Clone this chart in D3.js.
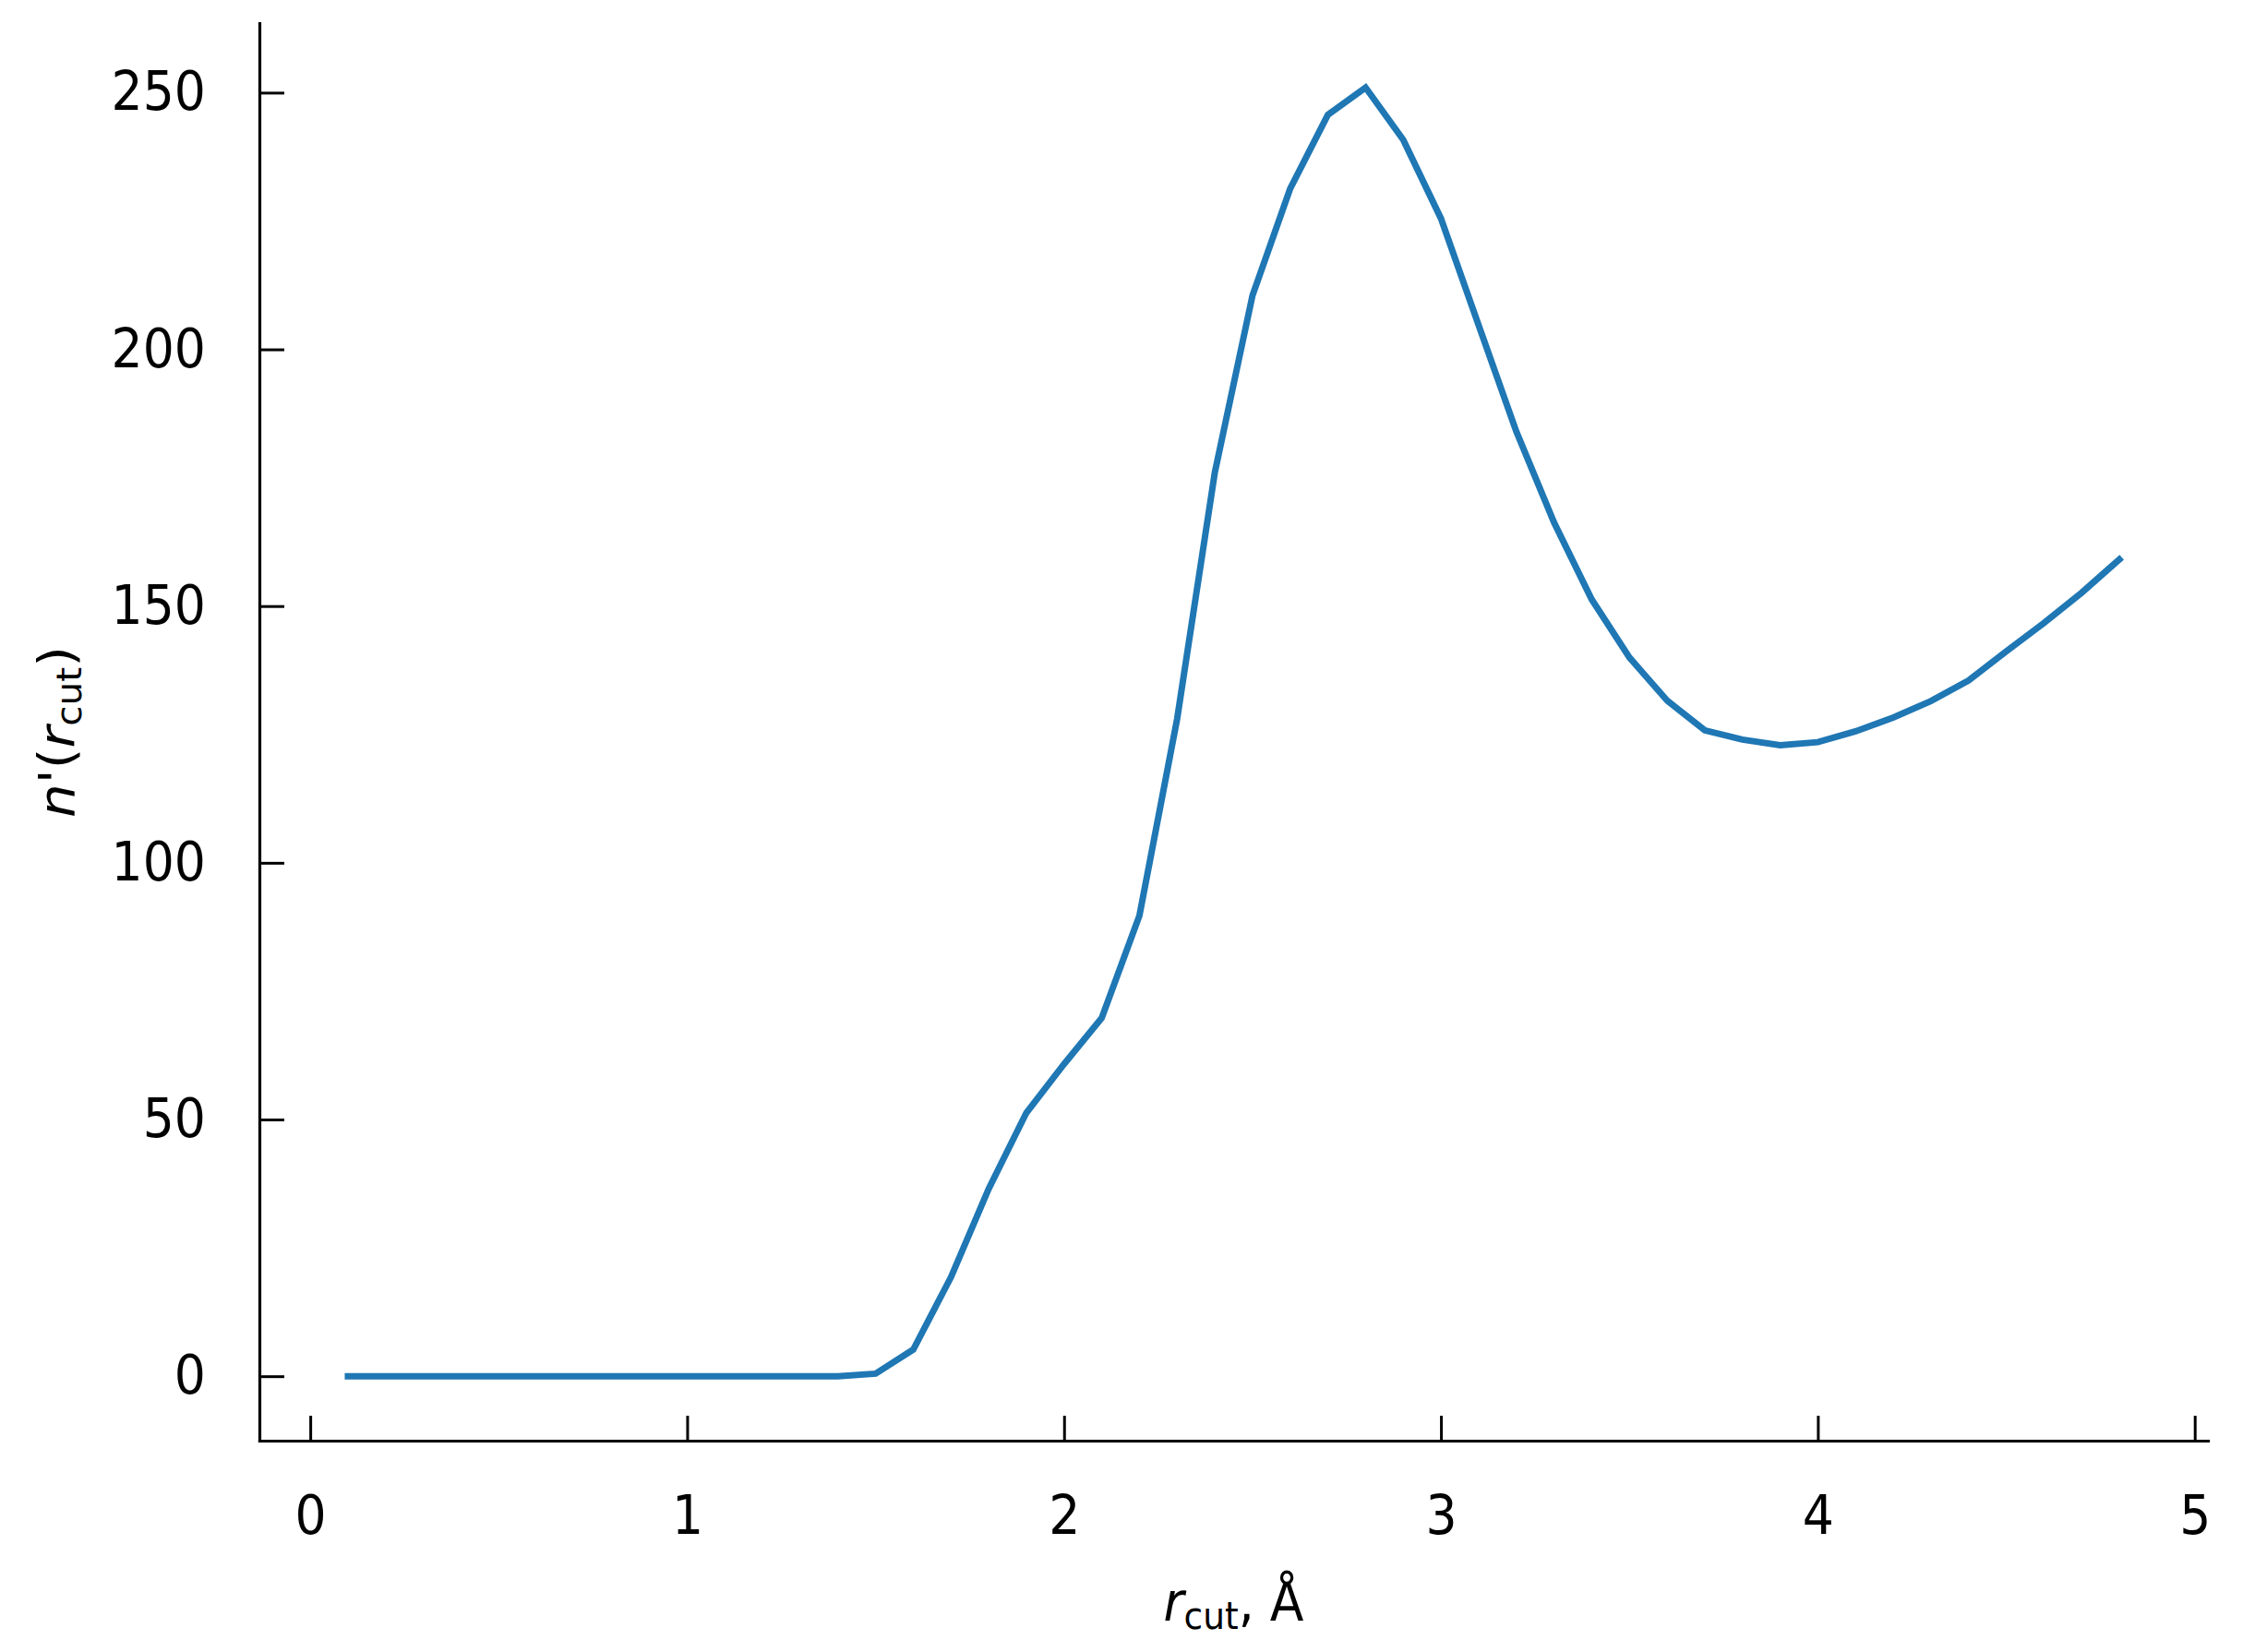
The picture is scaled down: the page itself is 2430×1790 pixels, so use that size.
<!DOCTYPE html>
<html>
<head>
<meta charset="utf-8">
<script src="https://cdn.jsdelivr.net/npm/d3@7"></script>
<style>
  body { margin: 0; background: #fff; }
  svg { display: block; }
  text { font-family: "DejaVu Sans", sans-serif; fill: #000; }
</style>
</head>
<body>
<svg id="chart"></svg>
<script>
// cutoff radius, Å
var rCut = [0.1, 0.2, 0.3, 0.4, 0.5, 0.6, 0.7, 0.8, 0.9, 1.0,
  1.1, 1.2, 1.3, 1.4, 1.5, 1.6, 1.7, 1.8, 1.9, 2.0,
  2.1, 2.2, 2.3, 2.4, 2.5, 2.6, 2.7, 2.8, 2.9, 3.0,
  3.1, 3.2, 3.3, 3.4, 3.5, 3.6, 3.7, 3.8, 3.9, 4.0,
  4.1, 4.2, 4.3, 4.4, 4.5, 4.6, 4.7, 4.8];

// n'(r_cut)
var nPrime = [0, 0, 0, 0, 0, 0, 0, 0, 0, 0,
  0, 0, 0, 0, 0.5, 5.2, 19.3, 36.5, 51.3, 60.8,
  69.8, 89.7, 128, 176, 210.5, 231.3, 245.7, 251, 240.8, 225.5,
  204.7, 184, 166.3, 151.3, 140, 131.6, 125.8, 124, 122.9, 123.5,
  125.6, 128.3, 131.5, 135.5, 141.2, 146.7, 152.6, 159.1];

var xTicks = [0, 1, 2, 3, 4, 5];
var yTicks = [0, 50, 100, 150, 200, 250];

var W = 2430, H = 1790;
var margin = {top: 25, right: 38, bottom: 229, left: 281};
var fontSize = 58, subSize = 40.6;
var squeeze = 0.925; // the reference text is a bit narrow

var svg = d3.select("#chart").attr("width", W).attr("height", H);

var data = rCut.map(function(r, i) { return {x: r, y: nPrime[i]}; });

// matplotlib style 5% margins
var xMin = d3.min(rCut), xMax = d3.max(rCut);
var yMin = d3.min(nPrime), yMax = d3.max(nPrime);
var xPad = (xMax - xMin) * 0.05, yPad = (yMax - yMin) * 0.05;

var x = d3.scaleLinear()
  .domain([xMin - xPad, xMax + xPad])
  .range([margin.left, W - margin.right]);

var y = d3.scaleLinear()
  .domain([yMin - yPad, yMax + yPad])
  .range([H - margin.bottom, margin.top]);

var xAxis = svg.append("g")
  .attr("transform", "translate(0," + (H - margin.bottom) + ")")
  .call(d3.axisBottom(x).tickValues(xTicks).tickFormat(d3.format("d"))
    .tickSizeInner(-27).tickSizeOuter(0));

var yAxis = svg.append("g")
  .attr("transform", "translate(" + margin.left + ",0)")
  .call(d3.axisLeft(y).tickValues(yTicks).tickFormat(d3.format("d"))
    .tickSizeInner(-27).tickSizeOuter(0));

[xAxis, yAxis].forEach(function(g) {
  g.attr("font-family", null).attr("font-size", null);
  g.select(".domain").attr("stroke", "#000").attr("stroke-width", 3.2)
    .attr("stroke-linecap", "square");
  g.selectAll(".tick line").attr("stroke", "#000").attr("stroke-width", 3);
  g.selectAll(".tick text").style("font-size", fontSize + "px")
    .attr("transform", "scale(" + squeeze + ",1)");
});

xAxis.selectAll(".tick text").attr("y", 101).attr("dy", null);
yAxis.selectAll(".tick text").attr("x", -58 / squeeze);

svg.append("path")
  .datum(data)
  .attr("fill", "none")
  .attr("stroke", "#1f77b4")
  .attr("stroke-width", 7)
  .attr("stroke-linejoin", "miter")
  .attr("stroke-linecap", "square")
  .attr("d", d3.line()
    .x(function(d) { return x(d.x); })
    .y(function(d) { return y(d.y); }));

// x label
var xl = svg.append("text")
  .attr("transform", "translate(" + (margin.left + W - margin.right) / 2 + ",1756) scale(" + squeeze + ",1)")
  .attr("text-anchor", "middle")
  .style("font-size", fontSize + "px");
xl.append("tspan").style("font-style", "italic").text("r");
xl.append("tspan").attr("dy", 9).style("font-size", subSize + "px").text("cut");
xl.append("tspan").attr("dy", -9).text(", Å");

// y label
var yl = svg.append("text")
  .attr("transform", "translate(80," + (margin.top + H - margin.bottom) / 2 + ") scale(" + squeeze + ",1) rotate(-90)")
  .attr("text-anchor", "middle")
  .style("font-size", fontSize + "px");
yl.append("tspan").style("font-style", "italic").text("n");
yl.append("tspan").text("'(");
yl.append("tspan").style("font-style", "italic").text("r");
yl.append("tspan").attr("dy", 9).style("font-size", subSize + "px").text("cut");
yl.append("tspan").attr("dy", -9).text(")");
</script>
</body>
</html>
